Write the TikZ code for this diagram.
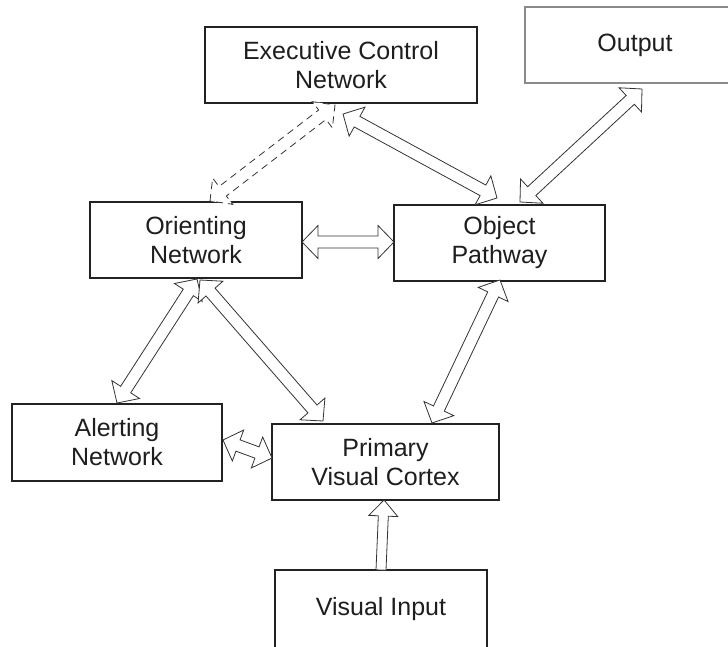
\documentclass[tikz,border=0pt]{standalone}
\usepackage{fontspec}
\setmainfont{Liberation Sans}
\usetikzlibrary{calc}
\definecolor{txt}{HTML}{1E1E1E}
\definecolor{boxline}{HTML}{222222}
\definecolor{outline}{HTML}{8A8A8A}
\definecolor{arrline}{HTML}{333333}
\tikzset{
  boxnode/.style={draw=boxline, line width=1.3pt, inner sep=0pt, outer sep=0pt,
    align=center, text=txt, font=\fontsize{25}{29}\selectfont},
  arrshape/.style={draw=arrline, line width=0.8pt, fill=white, line join=miter},
  dashshape/.style={draw=arrline, line width=0.8pt, dash pattern=on 7pt off 5pt},
}
\def\hl{16pt}
\def\hw{16.5pt}
\def\sw{6pt}
% double-headed hollow arrow between two points
\newcommand\dblarr[3][]{%
  \coordinate (daA) at #2;
  \coordinate (daB) at #3;
  \coordinate (daP) at ($(daA)!\hl!(daB)$);
  \coordinate (daQ) at ($(daB)!\hl!(daA)$);
  \draw[arrshape,#1] (daA) -- ($(daP)!\hw!90:(daB)$) -- ($(daP)!\sw!90:(daB)$)
    -- ($(daQ)!\sw!-90:(daA)$) -- ($(daQ)!\hw!-90:(daA)$) -- (daB)
    -- ($(daQ)!\hw!90:(daA)$) -- ($(daQ)!\sw!90:(daA)$)
    -- ($(daP)!\sw!-90:(daB)$) -- ($(daP)!\hw!-90:(daB)$) -- cycle;
}
% single-headed hollow arrow from #2 to #3
\newcommand\sglarr[3][]{%
  \coordinate (daA) at #2;
  \coordinate (daB) at #3;
  \coordinate (daQ) at ($(daB)!\hl!(daA)$);
  \draw[arrshape,#1] ($(daA)!\sw!90:(daB)$)
    -- ($(daQ)!\sw!-90:(daA)$) -- ($(daQ)!\hw!-90:(daA)$) -- (daB)
    -- ($(daQ)!\hw!90:(daA)$) -- ($(daQ)!\sw!90:(daA)$)
    -- ($(daA)!\sw!-90:(daB)$) -- cycle;
}
\begin{document}
\begin{tikzpicture}[x=1pt,y=1pt]
\useasboundingbox (0,0) rectangle (728,-646);
\clip (0,0) rectangle (728,-646);
\fill[white] (0,0) rectangle (728,-646);

% boxes
\node[boxnode, minimum width=272pt, minimum height=76pt] (ecn) at (341,-65) {Executive Control\\Network};
\node[boxnode, draw=outline, line width=1.1pt, minimum width=220pt, minimum height=76pt] (out) at (635,-45) {Output};
\node[boxnode, minimum width=212pt, minimum height=76pt] (orient) at (196,-240) {Orienting\\Network};
\node[boxnode, minimum width=211pt, minimum height=76pt] (obj) at (499.5,-243) {Object\\Pathway};
\node[boxnode, minimum width=210pt, minimum height=77pt] (alert) at (117,-442.5) {Alerting\\Network};
\node[boxnode, minimum width=227pt, minimum height=76pt] (pvc) at (385.5,-462) {Primary\\Visual Cortex};
\node[boxnode, minimum width=212pt, minimum height=78pt] (vin) at (381,-609) {Visual Input};

% dashed arrow Orienting <-> Executive Control
\dblarr[dashshape]{([shift={(14pt,1pt)}]orient.north)}{([shift={(-6pt,-2pt)}]ecn.south)}

% Executive Control <-> Object Pathway
\dblarr{([shift={(2pt,-11pt)}]ecn.south)}{([shift={(-2.5pt,7pt)}]obj.north)}

% Object Pathway <-> Output
\dblarr{([shift={(20.5pt,3pt)}]obj.north)}{([shift={(7pt,-6pt)}]out.south)}

% Orienting <-> Object
\dblarr{([yshift=-2pt]orient.east)}{([yshift=1pt]obj.west)}

% Orienting <-> Alerting
\dblarr{([shift={(1pt,-1pt)}]orient.south)}{([yshift=1pt]alert.north)}

% Orienting <-> Primary Visual Cortex
\dblarr{([shift={(4pt,-2pt)}]orient.south)}{([shift={(51pt,3pt)}]pvc.north west)}

% Object <-> Primary Visual Cortex
\dblarr{([shift={(0.5pt,1pt)}]obj.south)}{([shift={(46.5pt,1pt)}]pvc.north)}

% Alerting <-> Primary Visual Cortex
\dblarr{([shift={(1pt,2.5pt)}]alert.east)}{([yshift=4pt]pvc.west)}

% Visual Input -> Primary Visual Cortex
\begingroup
\def\hw{14.5pt}\def\sw{5pt}
\sglarr{(vin.north)}{([xshift=-1.5pt]pvc.south)}
\endgroup
\end{tikzpicture}
\end{document}
